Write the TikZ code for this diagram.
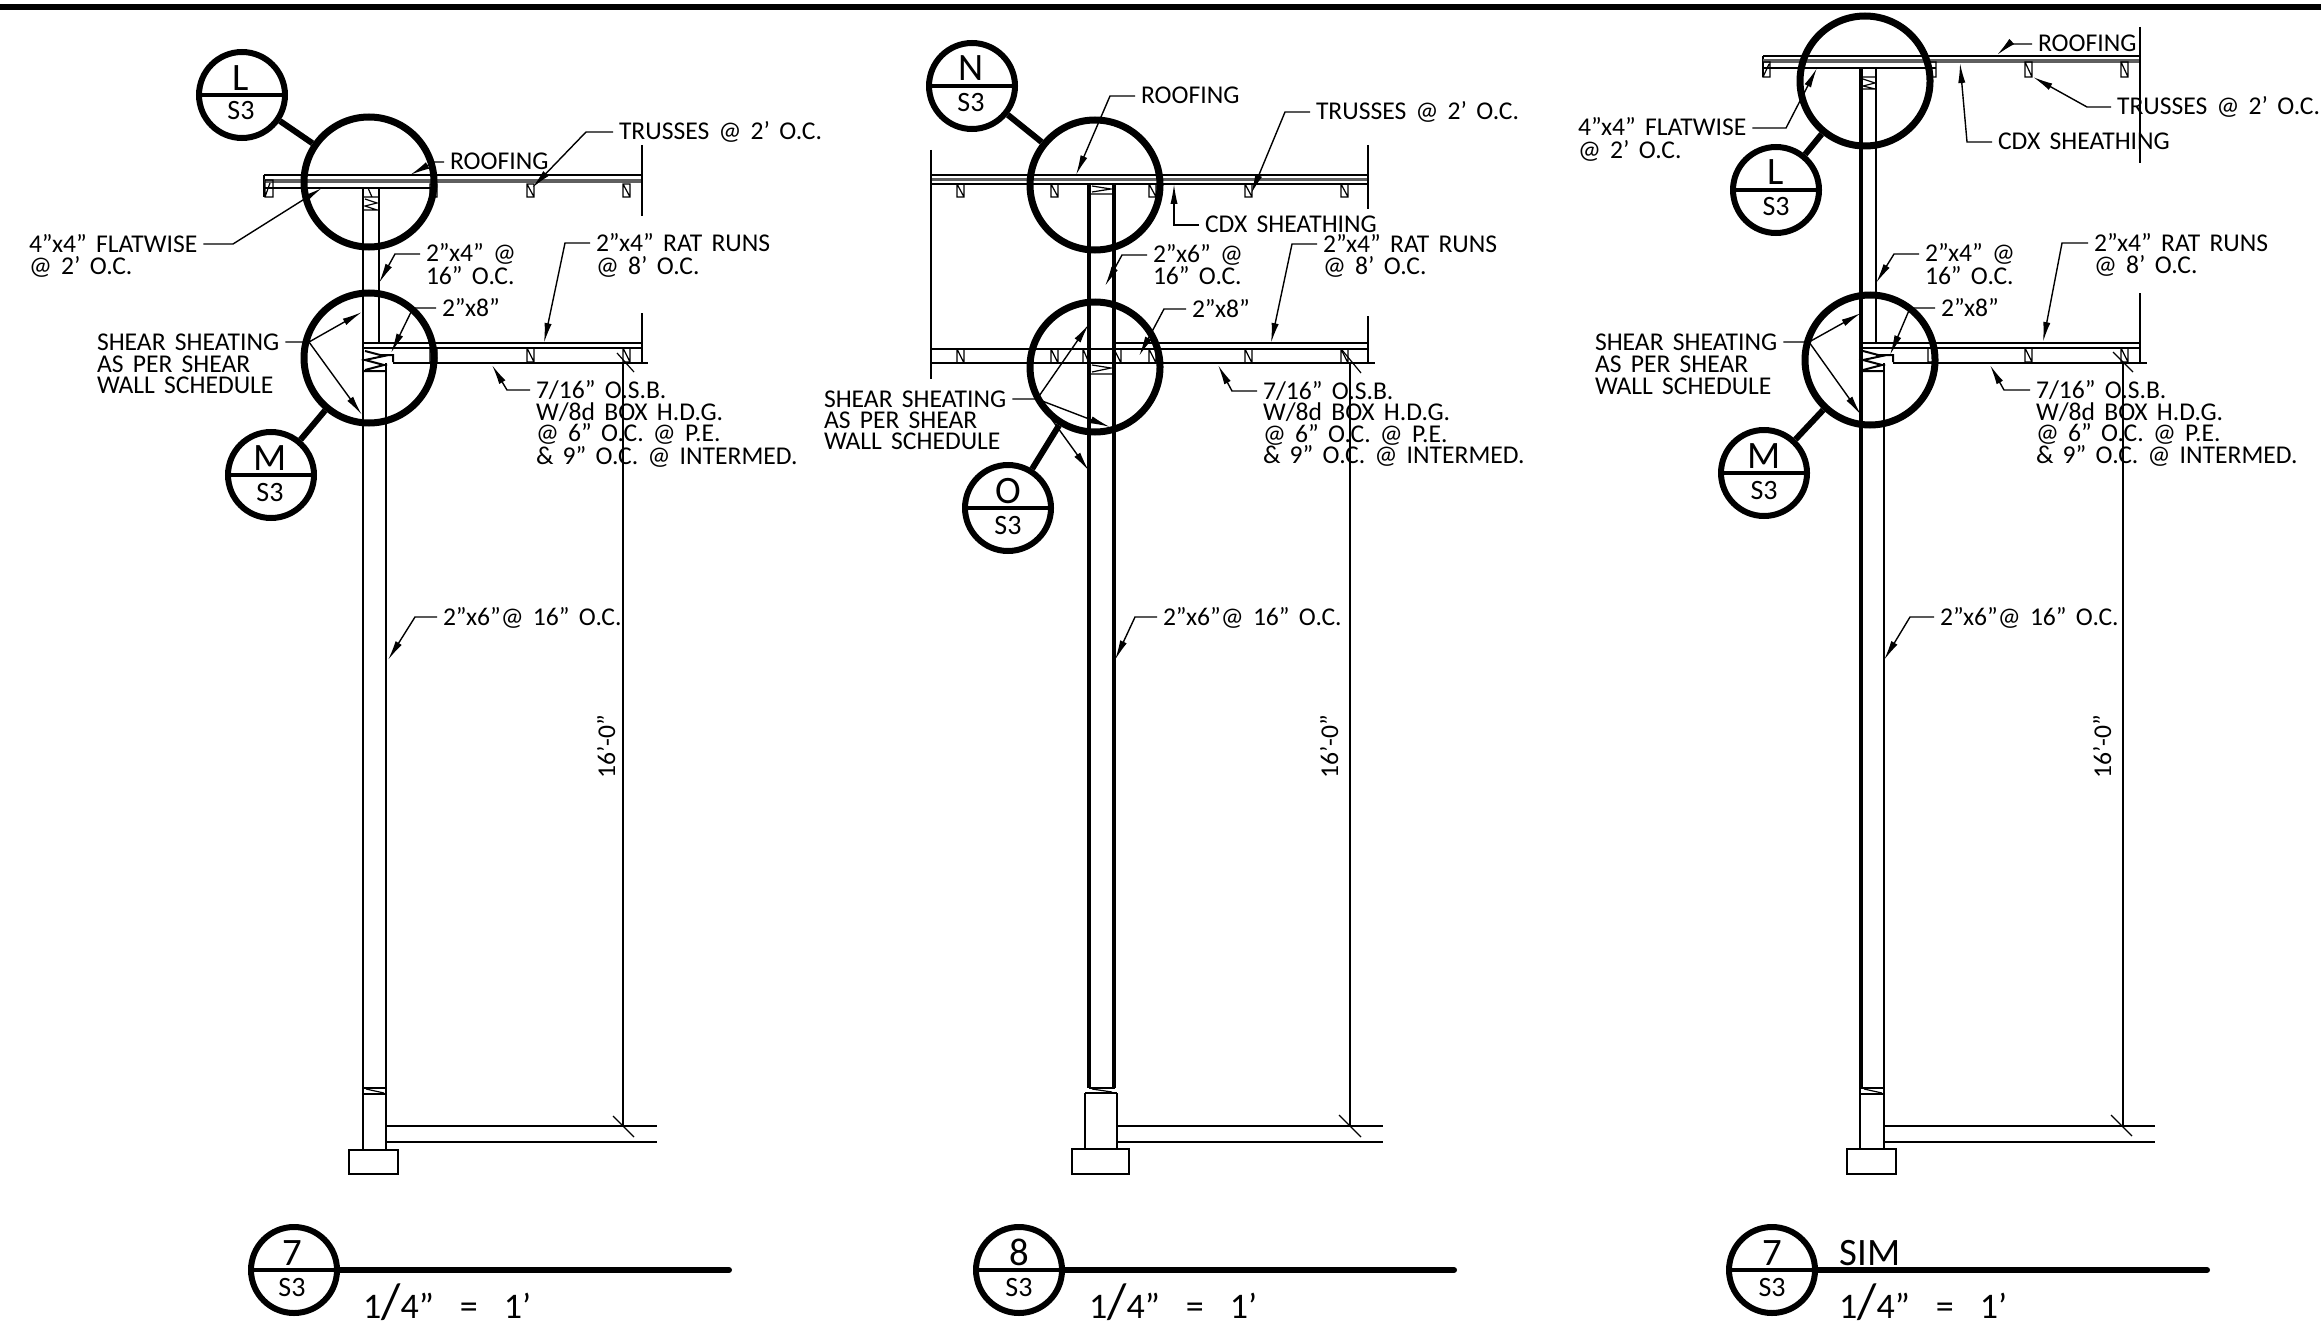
\documentclass[tikz,border=0pt]{standalone}
\usepackage{fontspec}
\setmainfont[WordSpace=1.6]{Carlito}
\usetikzlibrary{arrows.meta}
\definecolor{Hatch}{RGB}{95,95,95}
\newcommand{\ScaleText}{1{\fontsize{25}{25}\selectfont/}4”\ \ =\ \ 1’}
\tikzset{
	note/.style={anchor=west, inner sep=0pt, outer xsep=3pt, xshift=-3pt, text height=8pt, text depth=0pt, font=\fontsize{12.8}{15}\selectfont},
	scale note/.style={anchor=west, inner sep=0pt, outer sep=0pt, text height=11pt, text depth=0pt, font=\fontsize{18}{20}\selectfont},
	big mark/.style={inner sep=0pt, text height=12.5pt, text depth=0pt, font=\fontsize{19.4}{22}\selectfont},
	sheet mark/.style={inner sep=0pt, text height=9pt, text depth=0pt, font=\fontsize{14}{16}\selectfont},
	bubble/.style={draw, shape=circle, line width=3pt, minimum size=43pt, inner sep=0pt},
	detail/.style={draw, shape=circle, line width=3.5pt, minimum size=65pt, inner sep=0pt},
	divider/.style={line width=2.4pt},
	heavy/.style={line width=3pt},
	leader/.style={line width=0.7pt, -{Latex[length=10pt,width=3.6pt]}},
	framing/.style={line width=1pt},
	stud/.style={line width=1.7pt},
	thinwood/.style={line width=0.6pt},
	hatch/.style={line width=2.2pt, color=Hatch}
}
\begin{document}
\begin{tikzpicture}[x=0.5pt, y=-0.5pt]
	\useasboundingbox (0,0) rectangle (2321,1332);
	\draw [line width=3pt] (0,7) -- (2321,7);

	% left section
	\draw [framing] (264,175) -- (642,175) (264,175) -- (264,197) (264,188) -- (437,188);
	\draw [hatch] (264,181) -- (642,181);
	\draw [framing] (642,145) -- (642,216) (642,313) -- (642,362);
	\draw [thinwood] (265,180) rectangle (273,197) (265,197) -- (270,183) (430,184) rectangle (437,197) (527,184) rectangle (534,197) (527,184) -- (534,197) (623,184) rectangle (630,197) (623,184) -- (630,197);
	\draw [framing] (363,188) -- (363,1150) (379,188) -- (379,343) (386,363) -- (386,1150);
	\draw [thinwood] (363,197) rectangle (379,210) (365,199) -- (377,203) -- (365,206) -- (377,210) (368,188) -- (372,197) -- (368,197);
	\draw [framing] (363,343) -- (642,343) (363,348) -- (642,348);
	\draw [line width=1.4pt] (393,363) -- (648,363);
	\draw [framing] (363,371) -- (386,371) (379,355) -- (393,355) -- (393,362) (365,351) -- (384,356) -- (365,360) -- (384,365) -- (365,370);
	\draw [thinwood] (430,348) rectangle (437,362) (527,348) rectangle (534,362) (527,348) -- (534,362) (623,348) rectangle (630,362) (623,348) -- (630,362);
	\draw [framing] (623,362) -- (623,1126);
	\draw [thinwood] (617,353) -- (634,372);
	\draw [framing] (363,1088) -- (386,1088) (363,1094) -- (386,1094);
	\draw [thinwood] (366,1089) -- (384,1093);
	\draw [framing] (349,1150) rectangle (398,1174);
	\draw [framing] (386,1126) -- (657,1126) (386,1142) -- (657,1142);
	\draw [thinwood] (613,1116) -- (634,1137);

	\node [detail] (roofDetailA) at (369,182) {};
	\node [detail] (floorDetailA) at (369,358) {};
	\node [bubble] (bubbleLA) at (242,95) {};
	\node [bubble] (bubbleMA) at (271,475) {};
	\draw [heavy] (bubbleLA) -- (roofDetailA);
	\draw [heavy] (bubbleMA) -- (floorDetailA);
	\draw [divider] (bubbleLA.west) -- (bubbleLA.east);
	\draw [divider] (bubbleMA.west) -- (bubbleMA.east);
	\node [big mark] (markLA) at (241,78) {L};
	\node [sheet mark] (sheetLA) at (241,111) {S3};
	\node [big mark] (markMA) at (270,458) {M};
	\node [sheet mark] (sheetMA) at (270,492) {S3};

	\coordinate (roofingEndA) at (410,175);
	\node [note] (roofingA) at (450,162) {ROOFING};
	\draw [leader] (roofingA.west) -- (434,162) -- (roofingEndA);
	\coordinate (trussEndA) at (532,188);
	\node [note] (trussA) at (619,132) {TRUSSES @ 2’ O.C.};
	\draw [leader] (trussA.west) -- (586,132) -- (trussEndA);
	\coordinate (flatEndA) at (322,188);
	\node [note] (flatA) at (29,244) {4”x4” FLATWISE};
	\node [note] (flatLowA) at (29,266) {@ 2’ O.C.};
	\draw [leader] (flatA.east) -- (233,244) -- (flatEndA);
	\coordinate (studEndA) at (379,283);
	\node [note] (studA) at (426,254) {2”x4” @};
	\node [note] (studLowA) at (426,276) {16” O.C.};
	\draw [leader] (studA.west) -- (395,254) -- (studEndA);
	\coordinate (plateEndA) at (391,353);
	\node [note] (plateA) at (442,308) {2”x8”};
	\draw [leader] (plateA.west) -- (413,308) -- (plateEndA);
	\coordinate (ratEndA) at (544,343);
	\node [note] (ratA) at (596,243) {2”x4” RAT RUNS};
	\node [note] (ratLowA) at (596,266) {@ 8’ O.C.};
	\draw [leader] (ratA.west) -- (565,243) -- (ratEndA);
	\coordinate (shearTopA) at (362,312);
	\coordinate (shearLowA) at (362,415);
	\node [note] (shearA) at (97,342) {SHEAR SHEATING};
	\node [note] (shearMidA) at (97,364) {AS PER SHEAR};
	\node [note] (shearEndA) at (97,385) {WALL SCHEDULE};
	\draw [leader] (shearA.east) -- (309,342) -- (shearTopA);
	\draw [leader] (309,342) -- (shearLowA);
	\coordinate (osbEndA) at (492,365);
	\node [note] (osbA) at (536,390) {7/16” O.S.B.};
	\node [note] (osbTwoA) at (536,412) {W/8d BOX H.D.G.};
	\node [note] (osbThreeA) at (536,433) {@ 6” O.C. @ P.E.};
	\node [note] (osbFourA) at (536,456) {\& 9” O.C. @ INTERMED.};
	\draw [leader] (osbA.west) -- (507,390) -- (osbEndA);
	\coordinate (wallEndA) at (388,660);
	\node [note] (wallA) at (443,617) {2”x6”@ 16” O.C.};
	\draw [leader] (wallA.west) -- (415,617) -- (wallEndA);
	\node [note, anchor=center, xshift=3pt, rotate=90] (heightA) at (607,747) {16’-0”};

	\node [bubble] (titleA) at (294,1270) {};
	\draw [divider, line width=2pt] (titleA.west) -- (titleA.east);
	\draw [heavy, line cap=round] (titleA.east) -- (729,1270);
	\node [big mark] (numberA) at (292,1253) {7};
	\node [sheet mark] (pageA) at (292,1287) {S3};
	\node [scale note] (scaleA) at (363,1307) {\ScaleText};

	% middle section
	\draw [framing] (931,175) -- (1368,175) (931,184) -- (1368,184);
	\draw [hatch, line width=1.5pt] (931,180) -- (1368,180);
	\draw [framing] (931,150) -- (931,379) (1368,145) -- (1368,209) (1368,316) -- (1368,363);
	\draw [thinwood] (957,184) rectangle (964,197) (957,184) -- (964,197) (1051,184) rectangle (1058,197) (1051,184) -- (1058,197) (1149,184) rectangle (1156,197) (1149,184) -- (1156,197) (1245,184) rectangle (1252,197) (1245,184) -- (1252,197) (1341,184) rectangle (1348,197) (1341,184) -- (1348,197);
	\draw [stud] (1089,184) -- (1089,1088) (1114,184) -- (1114,1088);
	\draw [thinwood] (1089,194) -- (1114,194) (1092,186) -- (1111,189) -- (1092,192) (1089,374) -- (1114,374) (1092,365) -- (1111,368) -- (1092,372);
	\draw [framing] (1114,343) -- (1368,343) (931,349) -- (1368,349);
	\draw [line width=1.3pt] (931,363) -- (1375,363);
	\draw [thinwood] (957,349) rectangle (964,363) (957,349) -- (964,363) (1051,349) rectangle (1058,363) (1051,349) -- (1058,363) (1083,349) rectangle (1089,363) (1083,349) -- (1089,363) (1114,349) rectangle (1121,363) (1114,349) -- (1121,363) (1149,349) rectangle (1156,363) (1149,349) -- (1156,363) (1245,349) rectangle (1252,363) (1245,349) -- (1252,363) (1341,349) rectangle (1348,363) (1341,349) -- (1348,363);
	\draw [framing] (1350,363) -- (1350,1126);
	\draw [thinwood] (1342,350) -- (1361,373);
	\draw [framing] (1089,1088) -- (1115,1088) (1085,1093) -- (1117,1093) (1085,1093) -- (1085,1149) (1117,1093) -- (1117,1149);
	\draw [thinwood] (1092,1089) -- (1112,1092);
	\draw [framing] (1072,1149) rectangle (1129,1174);
	\draw [framing] (1117,1126) -- (1383,1126) (1117,1142) -- (1383,1142);
	\draw [thinwood] (1339,1115) -- (1361,1137);

	\node [detail] (roofDetailB) at (1095,185) {};
	\node [detail] (floorDetailB) at (1095,367) {};
	\node [bubble] (bubbleNB) at (972,86) {};
	\node [bubble] (bubbleOB) at (1008,508) {};
	\draw [heavy] (bubbleNB) -- (roofDetailB);
	\draw [heavy] (bubbleOB) -- (floorDetailB);
	\draw [divider] (bubbleNB.west) -- (bubbleNB.east);
	\draw [divider] (bubbleOB.west) -- (bubbleOB.east);
	\node [big mark] (markNB) at (971,68) {N};
	\node [sheet mark] (sheetNB) at (971,103) {S3};
	\node [big mark] (markOB) at (1008,491) {O};
	\node [sheet mark] (sheetOB) at (1008,525) {S3};

	\coordinate (roofingEndB) at (1076,175);
	\node [note] (roofingB) at (1141,96) {ROOFING};
	\draw [leader] (roofingB.west) -- (1110,96) -- (roofingEndB);
	\coordinate (trussEndB) at (1251,194);
	\node [note] (trussB) at (1316,112) {TRUSSES @ 2’ O.C.};
	\draw [leader] (trussB.west) -- (1285,112) -- (trussEndB);
	\coordinate (cdxEndB) at (1174,184);
	\node [note] (cdxB) at (1205,225) {CDX SHEATHING};
	\draw [leader] (cdxB.west) -- (1174,225) -- (cdxEndB);
	\coordinate (studEndB) at (1105,286);
	\node [note] (studB) at (1153,255) {2”x6” @};
	\node [note] (studLowB) at (1153,276) {16” O.C.};
	\draw [leader] (studB.west) -- (1122,255) -- (studEndB);
	\coordinate (plateEndB) at (1139,356);
	\node [note] (plateB) at (1192,309) {2”x8”};
	\draw [leader] (plateB.west) -- (1164,309) -- (plateEndB);
	\coordinate (ratEndB) at (1271,343);
	\node [note] (ratB) at (1323,244) {2”x4” RAT RUNS};
	\node [note] (ratLowB) at (1323,266) {@ 8’ O.C.};
	\draw [leader] (ratB.west) -- (1292,244) -- (ratEndB);
	\coordinate (shearTopB) at (1089,324);
	\coordinate (shearMidEndB) at (1110,427);
	\coordinate (shearLowB) at (1089,471);
	\node [note] (shearB) at (824,399) {SHEAR SHEATING};
	\node [note] (shearMidB) at (824,420) {AS PER SHEAR};
	\node [note] (shearEndB) at (824,441) {WALL SCHEDULE};
	\draw [leader] (shearB.east) -- (1037,399) -- (shearTopB);
	\draw [leader] (1037,399) -- (shearMidEndB);
	\draw [leader] (1037,399) -- (shearLowB);
	\coordinate (osbEndB) at (1218,365);
	\node [note] (osbB) at (1263,391) {7/16” O.S.B.};
	\node [note] (osbTwoB) at (1263,412) {W/8d BOX H.D.G.};
	\node [note] (osbThreeB) at (1263,434) {@ 6” O.C. @ P.E.};
	\node [note] (osbFourB) at (1263,455) {\& 9” O.C. @ INTERMED.};
	\draw [leader] (osbB.west) -- (1232,391) -- (osbEndB);
	\coordinate (wallEndB) at (1115,660);
	\node [note] (wallB) at (1163,617) {2”x6”@ 16” O.C.};
	\draw [leader] (wallB.west) -- (1135,617) -- (wallEndB);
	\node [note, anchor=center, xshift=3pt, rotate=90] (heightB) at (1330,747) {16’-0”};

	\node [bubble] (titleB) at (1019,1270) {};
	\draw [divider, line width=2pt] (titleB.west) -- (titleB.east);
	\draw [heavy, line cap=round] (titleB.east) -- (1454,1270);
	\node [big mark] (numberB) at (1019,1253) {8};
	\node [sheet mark] (pageB) at (1019,1287) {S3};
	\node [scale note] (scaleB) at (1089,1307) {\ScaleText};

	% right section
	\draw [framing] (1763,56) -- (2140,56) (1763,56) -- (1763,77) (1763,68) -- (1936,68);
	\draw [hatch] (1763,61) -- (2140,61);
	\draw [framing] (2140,27) -- (2140,163) (2140,293) -- (2140,362);
	\draw [thinwood] (1763,62) rectangle (1770,77) (1763,77) -- (1769,64) (1930,62) rectangle (1936,77) (2025,62) rectangle (2032,77) (2025,62) -- (2032,77) (2121,62) rectangle (2128,77) (2121,62) -- (2128,77);
	\draw [stud] (1861,68) -- (1861,1088);
	\draw [framing] (1876,68) -- (1876,343) (1884,363) -- (1884,1150) (1860,1088) -- (1860,1150);
	\draw [thinwood] (1861,77) rectangle (1876,89) (1863,79) -- (1875,83) -- (1863,86) -- (1875,89);
	\draw [framing] (1861,343) -- (2140,343) (1861,348) -- (2140,348);
	\draw [line width=1.4pt] (1893,363) -- (2147,363);
	\draw [framing] (1861,371) -- (1884,371) (1876,355) -- (1893,355) -- (1893,362) (1863,351) -- (1882,356) -- (1863,360) -- (1882,365) -- (1863,370);
	\draw [thinwood] (1928,348) rectangle (1934,362) (2025,348) rectangle (2032,362) (2025,348) -- (2032,362) (2121,348) rectangle (2128,362) (2121,348) -- (2128,362);
	\draw [framing] (2123,362) -- (2123,1126);
	\draw [thinwood] (2113,352) -- (2133,372);
	\draw [framing] (1860,1088) -- (1884,1088) (1860,1094) -- (1884,1094);
	\draw [thinwood] (1864,1089) -- (1882,1093);
	\draw [framing] (1847,1149) rectangle (1896,1174);
	\draw [framing] (1884,1126) -- (2155,1126) (1884,1142) -- (2155,1142);
	\draw [thinwood] (2111,1115) -- (2132,1136);

	\node [detail] (roofDetailC) at (1865,81) {};
	\node [detail] (floorDetailC) at (1870,360) {};
	\node [bubble] (bubbleLC) at (1776,190) {};
	\node [bubble] (bubbleMC) at (1764,473) {};
	\draw [heavy] (bubbleLC) -- (roofDetailC);
	\draw [heavy] (bubbleMC) -- (floorDetailC);
	\draw [divider] (bubbleLC.west) -- (bubbleLC.east);
	\draw [divider] (bubbleMC.west) -- (bubbleMC.east);
	\node [big mark] (markLC) at (1776,172) {L};
	\node [sheet mark] (sheetLC) at (1776,207) {S3};
	\node [big mark] (markMC) at (1764,456) {M};
	\node [sheet mark] (sheetMC) at (1764,490) {S3};

	\coordinate (roofingEndC) at (1997,55);
	\node [note] (roofingC) at (2038,44) {ROOFING};
	\draw [leader] (roofingC.west) -- (2009,44) -- (roofingEndC);
	\coordinate (trussEndC) at (2033,77);
	\node [note] (trussC) at (2117,107) {TRUSSES @ 2’ O.C.};
	\draw [leader] (trussC.west) -- (2087,107) -- (trussEndC);
	\coordinate (flatEndC) at (1817,68);
	\node [note] (flatC) at (1578,128) {4”x4” FLATWISE};
	\node [note] (flatLowC) at (1578,151) {@ 2’ O.C.};
	\draw [leader] (flatC.east) -- (1786,128) -- (flatEndC);
	\coordinate (cdxEndC) at (1960,63);
	\node [note] (cdxC) at (1998,142) {CDX SHEATHING};
	\draw [leader] (cdxC.west) -- (1967,142) -- (cdxEndC);
	\coordinate (studEndC) at (1876,283);
	\node [note] (studC) at (1925,254) {2”x4” @};
	\node [note] (studLowC) at (1925,277) {16” O.C.};
	\draw [leader] (studC.west) -- (1894,254) -- (studEndC);
	\coordinate (plateEndC) at (1890,355);
	\node [note] (plateC) at (1941,308) {2”x8”};
	\draw [leader] (plateC.west) -- (1910,308) -- (plateEndC);
	\coordinate (ratEndC) at (2043,342);
	\node [note] (ratC) at (2094,243) {2”x4” RAT RUNS};
	\node [note] (ratLowC) at (2094,265) {@ 8’ O.C.};
	\draw [leader] (ratC.west) -- (2062,243) -- (ratEndC);
	\coordinate (shearTopC) at (1861,313);
	\coordinate (shearLowC) at (1861,415);
	\node [note] (shearC) at (1595,342) {SHEAR SHEATING};
	\node [note] (shearMidC) at (1595,364) {AS PER SHEAR};
	\node [note] (shearEndC) at (1595,386) {WALL SCHEDULE};
	\draw [leader] (shearC.east) -- (1809,342) -- (shearTopC);
	\draw [leader] (1809,342) -- (shearLowC);
	\coordinate (osbEndC) at (1990,365);
	\node [note] (osbC) at (2036,390) {7/16” O.S.B.};
	\node [note] (osbTwoC) at (2036,412) {W/8d BOX H.D.G.};
	\node [note] (osbThreeC) at (2036,433) {@ 6” O.C. @ P.E.};
	\node [note] (osbFourC) at (2036,455) {\& 9” O.C. @ INTERMED.};
	\draw [leader] (osbC.west) -- (2004,390) -- (osbEndC);
	\coordinate (wallEndC) at (1884,660);
	\node [note] (wallC) at (1940,617) {2”x6”@ 16” O.C.};
	\draw [leader] (wallC.west) -- (1910,617) -- (wallEndC);
	\node [note, anchor=center, xshift=3pt, rotate=90] (heightC) at (2103,747) {16’-0”};

	\node [bubble] (titleC) at (1772,1270) {};
	\draw [divider, line width=2pt] (titleC.west) -- (titleC.east);
	\draw [heavy, line cap=round] (titleC.east) -- (2207,1270);
	\node [big mark] (numberC) at (1772,1253) {7};
	\node [sheet mark] (pageC) at (1772,1287) {S3};
	\node [big mark, anchor=west] (simC) at (1839,1253) {SIM};
	\node [scale note] (scaleC) at (1839,1307) {\ScaleText};
\end{tikzpicture}
\end{document}
